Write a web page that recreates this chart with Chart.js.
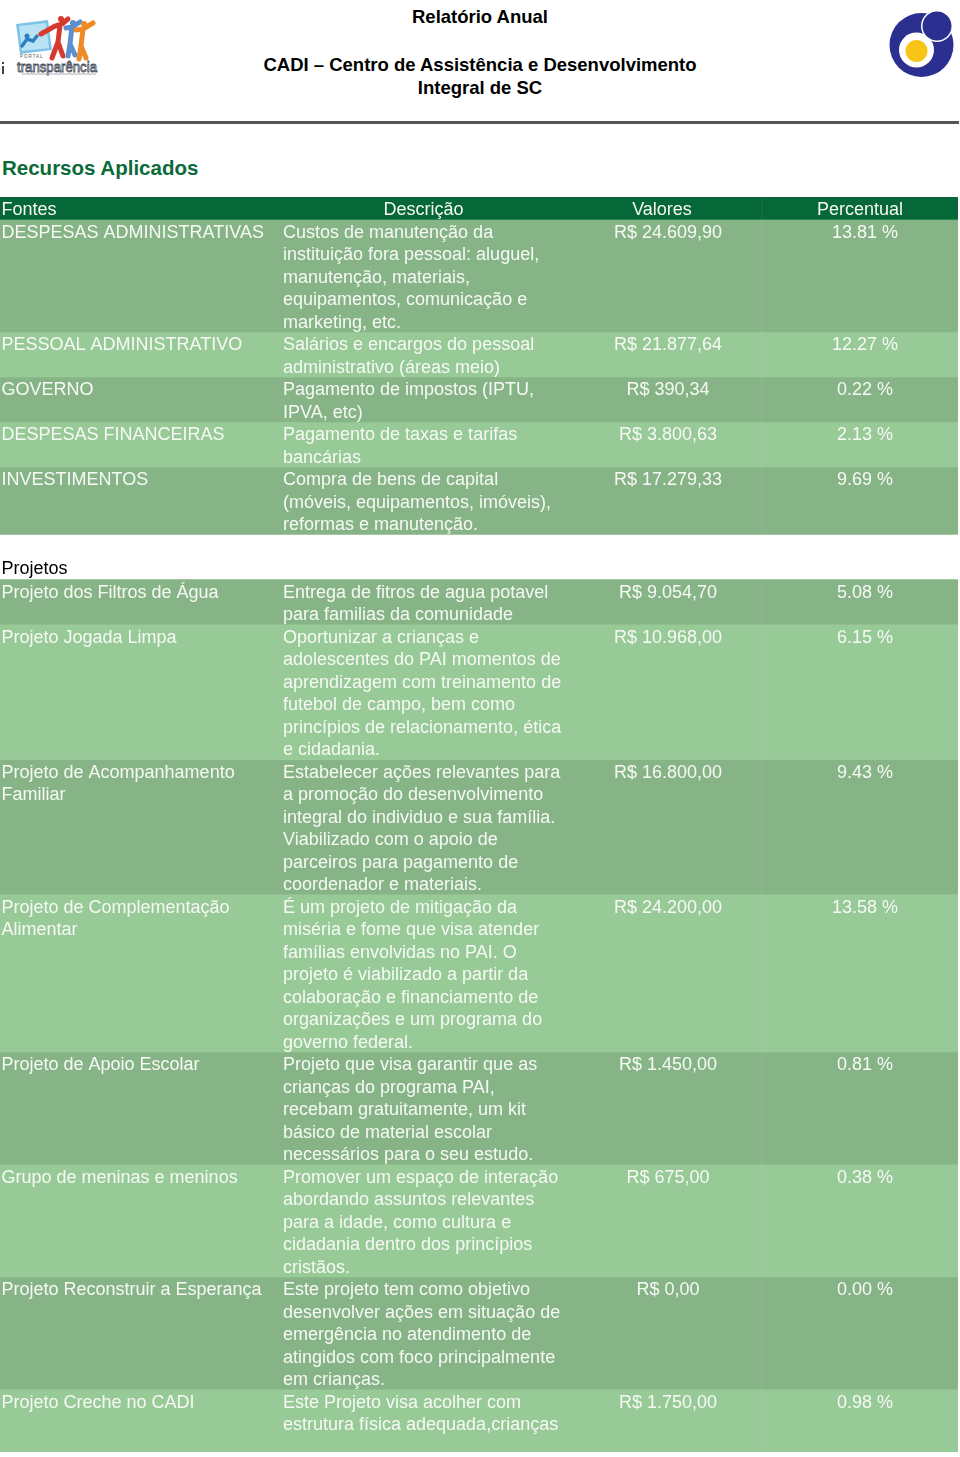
<!DOCTYPE html>
<html lang="pt-BR">
<head>
<meta charset="utf-8">
<title>Relatório Anual – Recursos Aplicados</title>
<script src="https://cdn.jsdelivr.net/npm/chart.js@4.4.1/dist/chart.umd.min.js"></script>
<style>
  html, body { margin: 0; padding: 0; background: #ffffff; }
  body { width: 960px; height: 1457px; position: relative; overflow: hidden;
         font-family: "Liberation Sans", Arial, Helvetica, sans-serif; }
  .t { position: absolute; left: 0; width: 960px; text-align: center; font-weight: bold;
       font-size: 18.5px; line-height: 20px; color: #000; white-space: nowrap; }
  #rule { position: absolute; left: 0; top: 121px; width: 959px; height: 2.5px; background: #555; }
  #secao { position: absolute; left: 2px; top: 156px; font-weight: bold; font-size: 20.5px;
           line-height: 24px; color: #0a6a38; }
  #wrap { position: absolute; left: 0; top: 196.5px; width: 958px; height: 1255.5px; overflow: hidden; }
  #logoL { position: absolute; left: 0; top: 6px; }
  #logoR { position: absolute; left: 884px; top: 6px; }
</style>
</head>
<body>
<svg id="logoL" width="100" height="70" viewBox="0 0 100 70">
  <polygon points="16,18 48,14 52,44 20,48" fill="#7fc3e8"/>
  <polygon points="19,20 46,17 49,42 22,45" fill="#b9e2f5"/>
  <circle cx="27" cy="30" r="2.5" fill="#2a7fc0"/>
  <path d="M22,40 L27,33 L33,35 L37,30" stroke="#2a7fc0" stroke-width="3.5" fill="none" stroke-linecap="round"/>
  <circle cx="61" cy="13" r="3" fill="#d63a2f"/>
  <path d="M41,28 L55,20 L62,18 L68,13 M60,19 L58,36 L52,52 M58,36 L63,50" stroke="#d63a2f" stroke-width="5" fill="none" stroke-linecap="round"/>
  <circle cx="73" cy="17" r="3" fill="#5b8fd0"/>
  <path d="M66,22 L72,21 L80,16 M72,21 L70,38 L68,50 M70,38 L75,49" stroke="#5b8fd0" stroke-width="5" fill="none" stroke-linecap="round"/>
  <circle cx="84" cy="18" r="3" fill="#f08a24"/>
  <path d="M76,24 L83,23 L93,17 M83,23 L81,40 L79,53 M81,40 L86,52" stroke="#f08a24" stroke-width="5" fill="none" stroke-linecap="round"/>
  <text x="20" y="52" font-size="4.5" fill="#555" font-family="Liberation Sans, Arial" letter-spacing="1">PORTAL</text>
  <text x="17" y="66" font-size="15.5" fill="#fff" stroke="#4a5060" stroke-width="0.9" font-family="Liberation Sans Narrow, Liberation Sans, Arial" textLength="80" lengthAdjust="spacingAndGlyphs">transparência</text>
  <line x1="22" y1="68" x2="96" y2="68" stroke="#999" stroke-width="0.8"/>
  <rect x="2" y="56" width="2" height="2" fill="#444"/>
  <rect x="2" y="60" width="2" height="8" fill="#444"/>
</svg>
<svg id="logoR" width="76" height="76" viewBox="0 0 76 76">
  <circle cx="37.5" cy="39" r="32" fill="#2b2f8f"/>
  <circle cx="32.5" cy="44" r="17.5" fill="#ffffff"/>
  <circle cx="32.5" cy="45" r="11" fill="#f8c517"/>
  <circle cx="53" cy="20" r="16" fill="#ffffff"/>
  <circle cx="53" cy="20" r="14.5" fill="#2b2f8f"/>
</svg>
<div class="t" style="top:7px">Relatório Anual</div>
<div class="t" style="top:55px">CADI – Centro de Assistência e Desenvolvimento</div>
<div class="t" style="top:78px">Integral de SC</div>
<div id="rule"></div>
<div id="secao">Recursos Aplicados</div>
<div id="wrap"><canvas id="c" width="958" height="1260"></canvas></div>
<script>
// ---------- Data ----------
const headers = ['Fontes', 'Descrição', 'Valores', 'Percentual'];

const fontesAdm = [
  'DESPESAS ADMINISTRATIVAS',
  'PESSOAL ADMINISTRATIVO',
  'GOVERNO',
  'DESPESAS FINANCEIRAS',
  'INVESTIMENTOS'
];
const descricoesAdm = [
  'Custos de manutenção da\ninstituição fora pessoal: aluguel,\nmanutenção, materiais,\nequipamentos, comunicação e\nmarketing, etc.',
  'Salários e encargos do pessoal\nadministrativo (áreas meio)',
  'Pagamento de impostos (IPTU,\nIPVA, etc)',
  'Pagamento de taxas e tarifas\nbancárias',
  'Compra de bens de capital\n(móveis, equipamentos, imóveis),\nreformas e manutenção.'
];
const valoresAdm = [24609.90, 21877.64, 390.34, 3800.63, 17279.33];
const percentuaisAdm = [13.81, 12.27, 0.22, 2.13, 9.69];

const tituloProjetos = 'Projetos';
const fontesProj = [
  'Projeto dos Filtros de Água',
  'Projeto Jogada Limpa',
  'Projeto de Acompanhamento\nFamiliar',
  'Projeto de Complementação\nAlimentar',
  'Projeto de Apoio Escolar',
  'Grupo de meninas e meninos',
  'Projeto Reconstruir a Esperança',
  'Projeto Creche no CADI'
];
const descricoesProj = [
  'Entrega de fitros de agua potavel\npara familias da comunidade',
  'Oportunizar a crianças e\nadolescentes do PAI momentos de\naprendizagem com treinamento de\nfutebol de campo, bem como\nprincípios de relacionamento, ética\ne cidadania.',
  'Estabelecer ações relevantes para\na promoção do desenvolvimento\nintegral do individuo e sua família.\nViabilizado com o apoio de\nparceiros para pagamento de\ncoordenador e materiais.',
  'É um projeto de mitigação da\nmiséria e fome que visa atender\nfamílias envolvidas no PAI. O\nprojeto é viabilizado a partir da\ncolaboração e financiamento de\norganizações e um programa do\ngoverno federal.',
  'Projeto que visa garantir que as\ncrianças do programa PAI,\nrecebam gratuitamente, um kit\nbásico de material escolar\nnecessários para o seu estudo.',
  'Promover um espaço de interação\nabordando assuntos relevantes\npara a idade, como cultura e\ncidadania dentro dos princípios\ncristãos.',
  'Este projeto tem como objetivo\ndesenvolver ações em situação de\nemergência no atendimento de\natingidos com foco principalmente\nem crianças.',
  'Este Projeto visa acolher com\nestrutura física adequada,crianças\n'
];
const valoresProj = [9054.70, 10968.00, 16800.00, 24200.00, 1450.00, 675.00, 0.00, 1750.00];
const percentuaisProj = [5.08, 6.15, 9.43, 13.58, 0.81, 0.38, 0.00, 0.98];

// ---------- Formatting ----------
function brl(v) {
  const parts = v.toFixed(2).split('.');
  return 'R$ ' + parts[0].replace(/\B(?=(\d{3})+(?!\d))/g, '.') + ',' + parts[1];
}
function pct(v) { return v.toFixed(2) + ' %'; }

// ---------- Styles ----------
const COL_HEADER = '#066838';
const COL_DARK = '#87b487';
const COL_LIGHT = '#98ca98';
const TEXT_COLOR = '#f6f9f4';
const FONT = '18px "Liberation Sans", Arial, Helvetica, sans-serif';
const LINE_PX = 22.5;
const GAP_LINES = 2;

// ---------- Build rows (in "text line" units) ----------
const rows = [];
rows.push({ kind: 'header', cells: headers, lines: 1, color: COL_HEADER });
function addBlock(fontes, descs, vals, pcts) {
  fontes.forEach((f, i) => {
    const cells = [f, descs[i], brl(vals[i]), pct(pcts[i])];
    const lines = Math.max(...cells.map(c => c.split('\n').length));
    rows.push({ kind: 'row', cells, lines, color: i % 2 === 0 ? COL_DARK : COL_LIGHT });
  });
}
addBlock(fontesAdm, descricoesAdm, valoresAdm, percentuaisAdm);
rows.push({ kind: 'gap', cells: [tituloProjetos], lines: GAP_LINES, color: 'rgba(0,0,0,0)' });
addBlock(fontesProj, descricoesProj, valoresProj, percentuaisProj);

const totalLines = rows.reduce((s, r) => s + r.lines, 0);
const canvas = document.getElementById('c');
canvas.height = Math.round(totalLines * LINE_PX);

// column layout (pixels from chart left)
const colLayout = {
  header: [{ x: 1.5, align: 'left' }, { x: 423.5, align: 'center' }, { x: 662, align: 'center' }, { x: 860, align: 'center' }],
  row:    [{ x: 1.5, align: 'left' }, { x: 283, align: 'left' }, { x: 668, align: 'center' }, { x: 865, align: 'center' }]
};
const SEP_X = 761.5;

const tablePlugin = {
  id: 'tableText',
  afterDatasetsDraw(chart) {
    const ctx = chart.ctx;
    const ys = chart.scales.y;
    const left = chart.chartArea.left;
    const lh = ys.getPixelForValue(1) - ys.getPixelForValue(0);
    ctx.save();
    ctx.font = FONT;
    ctx.textBaseline = 'alphabetic';
    rows.forEach((r, di) => {
      const el = chart.getDatasetMeta(di).data[0];
      const top = Math.min(el.y, el.base);
      const bottom = Math.max(el.y, el.base);
      if (r.kind === 'gap') {
        ctx.fillStyle = '#000';
        ctx.textAlign = 'left';
        ctx.fillText(r.cells[0], left + 1.5, bottom - 6);
        return;
      }
      // faint column separator
      ctx.fillStyle = 'rgba(255,255,255,0.07)';
      ctx.fillRect(left + SEP_X, top, 1, bottom - top);
      const layout = colLayout[r.kind];
      ctx.fillStyle = TEXT_COLOR;
      r.cells.forEach((cell, ci) => {
        const L = layout[ci];
        ctx.textAlign = L.align;
        cell.split('\n').forEach((line, li) => {
          if (line) ctx.fillText(line, left + L.x, top + 18 + li * lh);
        });
      });
    });
    ctx.restore();
  }
};

new Chart(canvas, {
  type: 'bar',
  data: {
    labels: ['Recursos Aplicados'],
    datasets: rows.map((r, i) => ({
      label: r.cells[0].split('\n')[0] + ' #' + i,
      data: [r.lines],
      backgroundColor: r.color,
      borderWidth: 0,
      barPercentage: 1,
      categoryPercentage: 1,
      stack: 'tabela'
    }))
  },
  options: {
    responsive: false,
    animation: false,
    devicePixelRatio: 1,
    layout: { padding: 0 },
    plugins: { legend: { display: false }, tooltip: { enabled: false }, title: { display: false } },
    scales: {
      x: { type: 'category', display: false, stacked: true, grid: { display: false } },
      y: { type: 'linear', display: false, stacked: true, reverse: true, min: 0, max: totalLines,
           grid: { display: false } }
    }
  },
  plugins: [tablePlugin]
});
</script>
</body>
</html>
